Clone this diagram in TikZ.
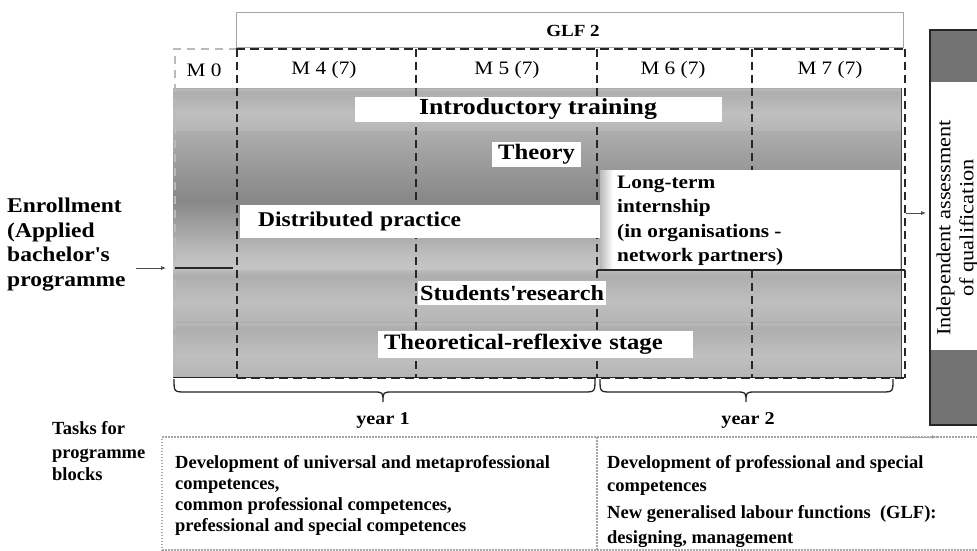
\documentclass[tikz,border=0pt]{standalone}
\usepackage{fontspec}
\setmainfont{Liberation Serif}
\newfontfamily\widefont{Liberation Serif}[FakeStretch=1.12]
\usetikzlibrary{arrows.meta}
\definecolor{mA}{gray}{0.58}
\definecolor{mB}{gray}{0.68}
\definecolor{mC}{gray}{0.75}
\definecolor{mD}{gray}{0.84}
\definecolor{mE}{gray}{0.53}
\definecolor{darkbox}{gray}{0.45}
\definecolor{edge}{gray}{0.15}
\pgfdeclareverticalshading{metal}{100bp}{color(0bp)=(mA); color(10bp)=(mB); color(45bp)=(mC); color(70bp)=(mB); color(84bp)=(mD); color(94bp)=(mB); color(100bp)=(mA)}
\pgfdeclareverticalshading{metaltall}{100bp}{color(0bp)=(mB); color(10bp)=(mD); color(30bp)=(mC); color(50bp)=(mE); color(75bp)=(mB); color(90bp)=(mD); color(100bp)=(mC)}
\begin{document}
\begin{tikzpicture}[x=1pt,y=-1pt,
  wbox/.style={fill=white,draw=none,inner sep=0pt},
  big/.style={font=\widefont\bfseries\fontsize{21}{24}\selectfont},
  hdr/.style={font=\widefont\fontsize{19}{21}\selectfont,inner sep=0pt},
  yr/.style={font=\widefont\bfseries\fontsize{18}{20}\selectfont,inner sep=0pt},
  task/.style={font=\bfseries\fontsize{18.5}{21}\selectfont,inner sep=0pt,align=left,anchor=north west},
  divthick/.style={edge,line width=2.4pt,dash pattern=on 8pt off 5pt},
  divthin/.style={edge,line width=1.5pt,dash pattern=on 8pt off 5pt},
  dots/.style={gray!70,line width=1.3pt,dash pattern=on 1.5pt off 1.5pt}]
\useasboundingbox (0,0) rectangle (977,551);
\clip (0,0) rectangle (977,551);
\fill[white] (0,0) rectangle (977,551);

% GLF 2 box
\node[draw=gray!70,line width=0.8pt,minimum width=667pt,minimum height=35pt,inner sep=0pt,anchor=north west] (glfbox) at (236,12) {};
\node[font=\widefont\bfseries\fontsize{17}{19}\selectfont,inner sep=0pt] (glf) at (573,31) {GLF 2};

% bands
\shade[shading=metal] (173,88) rectangle (901,131);
\shade[shading=metaltall] (173,131) rectangle (901,270);
\shade[shading=metal] (173,270) rectangle (901,322);
\shade[shading=metal] (173,322) rectangle (901,377);
\draw[gray!65,line width=0.8pt] (173,88) -- (901,88);
\draw[gray!65,line width=0.8pt] (173,131) -- (901,131);
\draw[gray!55,line width=0.8pt] (173,270) -- (901,270);
\draw[gray!65,line width=0.8pt] (173,322) -- (901,322);
\draw[gray!60!black,line width=1pt] (901,88) -- (901,377);
\draw[edge,line width=0.8pt] (173,377) -- (905,377);

% top dashed line
\draw[gray!55,line width=1.2pt,dash pattern=on 8pt off 6pt] (173,49) -- (236,49);
\draw[edge,line width=2pt,dash pattern=on 9pt off 5pt] (236,49) -- (905,49);
% bottom dashed line
\draw[edge,line width=2.4pt,dash pattern=on 9pt off 5pt] (237,378) -- (905,378);

% column dividers
\draw[gray!55,line width=1.2pt,dash pattern=on 8pt off 6pt] (175,56) -- (175,377);
\draw[divthick] (237,49) -- (237,378);
\draw[divthin] (416,49) -- (416,378);
\draw[divthin] (597,49) -- (597,378);
\draw[divthick] (752,49) -- (752,378);
\draw[divthin] (905,49) -- (905,378);

% headers
\node[hdr] (m0) at (204,70) {M 0};
\node[hdr] (m4) at (324,70) {M 4 (7)};
\node[hdr] (m5) at (507,70) {M 5 (7)};
\node[hdr] (m6) at (673,70) {M 6 (7)};
\node[hdr] (m7) at (830,70) {M 7 (7)};

% white label boxes
\node[wbox,big,font=\widefont\bfseries\fontsize{23}{25}\selectfont,minimum width=367pt,minimum height=25pt] (intro) at (538,109.5) {Introductory training};
\node[wbox,big,font=\widefont\bfseries\fontsize{22}{25}\selectfont,minimum width=89pt,minimum height=25pt] (theory) at (536.5,154.5) {Theory};
\node[wbox,big,minimum width=354pt,minimum height=33pt,anchor=north west,text width=336pt,inner xsep=18pt,align=left] (distr) at (240,205) {Distributed practice};
\node[wbox,minimum width=300pt,minimum height=100pt,anchor=north west] (intern) at (600,170) {};
\shade[left color=gray!55,right color=white] (600,170) rectangle (613,270);
\node[font=\widefont\bfseries\fontsize{19}{24.3}\selectfont,align=left,anchor=north west,inner sep=0pt] (interntxt) at (617,176) {Long-term\\internship\\(in organisations -\\network partners)};
\node[wbox,big,font=\widefont\bfseries\fontsize{21.6}{24}\selectfont,minimum width=188pt,minimum height=24pt] (research) at (512,293) {Students\textquotesingle research};
\node[wbox,big,font=\widefont\bfseries\fontsize{22}{24}\selectfont,minimum width=309pt,minimum height=27pt,text width=303pt,inner xsep=6pt,align=left] (reflex) at (535.5,344.5) {Theoretical-reflexive stage};
\draw[edge,line width=1.8pt] (597,270) -- (905,270);

% enrollment
\node[big,font=\widefont\bfseries\fontsize{21}{24.5}\selectfont,align=left,anchor=north west,inner sep=0pt] (enr) at (7,198) {Enrollment\\(Applied\\bachelor\textquotesingle s\\programme};
\coordinate (ea) at (136,268);
\coordinate (eb) at (166,268);
\coordinate (el1) at (175,268);
\coordinate (el2) at (233,268);
\draw[gray!60!black,line width=0.8pt,-{Latex[length=5pt,width=4pt]}] (ea) -- (eb);
\draw[edge,line width=2pt] (el1) -- (el2);

% braces
\draw[edge,line width=1.3pt] (174,379) .. controls (174,392) .. (186,392) -- (373,392) .. controls (383,392) .. (383,402) .. controls (383,392) .. (393,392) -- (583,392) .. controls (595,392) .. (595,379);
\draw[edge,line width=1.3pt] (600,379) .. controls (600,392) .. (612,392) -- (736,392) .. controls (746,392) .. (746,402) .. controls (746,392) .. (756,392) -- (881,392) .. controls (893,392) .. (893,379);
\node[yr] (y1) at (383,420) {year 1};
\node[yr] (y2) at (748,420) {year 2};

% independent assessment box
\fill[darkbox] (930,30) rectangle (980,82);
\fill[white] (930,82) rectangle (980,350);
\fill[darkbox] (930,350) rectangle (980,425);
\draw[edge,line width=1.4pt] (980,30) -- (930,30) -- (930,425) -- (980,425);
\node[rotate=90,font=\widefont\fontsize{20}{23}\selectfont,align=center,inner sep=0pt] (indep) at (957,228) {Independent assessment\\of qualification};
\coordinate (ra) at (906,213);
\coordinate (rb) at (926,213);
\draw[gray!60!black,line width=0.8pt,-{Latex[length=5pt,width=4pt]}] (ra) -- (rb);

% tasks
\node[task] (tasks) at (52,421) {Tasks for\\[3pt]programme\\[1pt]blocks};
\coordinate (t1) at (162,551);
\coordinate (t2) at (162,437);
\coordinate (t3) at (937,437);
\coordinate (t4) at (977,437);
\draw[dots] (t1) -- (t2) -- (t3);
\draw[gray!70,line width=1pt,-{Latex[length=5pt,width=4pt]}] (900,437) -- (t3);
\draw[dots] (t3) -- (t4);
\draw[dots] (162,550) -- (977,550);
\draw[dots] (597,437) -- (597,551);
\node[task] (task1) at (175,455) {Development of universal and metaprofessional\\competences,\\common professional competences,\\prefessional and special competences};
\node[task] (task2) at (607,455) {Development of professional and special\\[2pt]competences\\[6pt]New generalised labour functions\ \ (GLF):\\[4pt]designing, management};
\end{tikzpicture}
\end{document}
